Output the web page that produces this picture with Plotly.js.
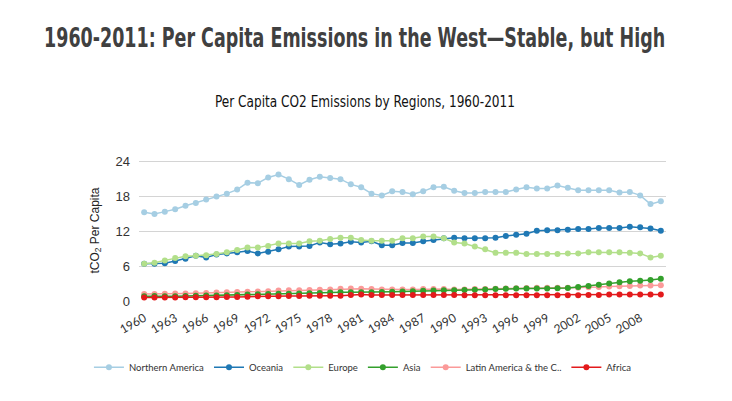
<!DOCTYPE html>
<html><head><meta charset="utf-8">
<script src="https://cdn.plot.ly/plotly-3.0.1.min.js"></script>
<style>html,body{margin:0;padding:0;background:#fff}#chart{width:732px;height:401px}</style>
</head><body><div id="chart"></div>
<script>
const years = [];
for (let y = 1960; y <= 2010; y++) years.push(y);

const northernAmerica = [15.3,15.0,15.4,15.8,16.4,16.9,17.5,18.0,18.5,19.2,20.4,20.3,21.3,21.8,21.0,20.0,20.9,21.4,21.2,21.0,20.1,19.6,18.5,18.2,18.9,18.8,18.4,18.9,19.6,19.7,19.0,18.6,18.6,18.8,18.8,18.8,19.2,19.6,19.4,19.4,19.9,19.5,19.1,19.1,19.1,19.1,18.7,18.8,18.2,16.7,17.2];
const oceania = [6.4,6.4,6.5,6.9,7.3,7.8,7.5,8.0,8.2,8.4,8.6,8.2,8.5,8.9,9.4,9.4,9.5,10.1,9.8,9.9,10.2,10.1,10.3,9.6,9.6,10.0,10.0,10.3,10.5,10.8,10.9,10.8,10.8,10.8,10.9,11.2,11.4,11.6,12.1,12.2,12.2,12.3,12.4,12.4,12.6,12.6,12.6,12.8,12.7,12.5,12.1];
const europe = [6.4,6.6,7.0,7.4,7.7,7.8,7.9,8.1,8.4,8.8,9.2,9.2,9.5,9.9,9.9,9.9,10.3,10.4,10.7,10.9,10.9,10.5,10.4,10.4,10.4,10.8,10.8,11.1,11.1,10.8,10.1,9.9,9.4,8.9,8.3,8.3,8.3,8.1,8.1,8.1,8.1,8.2,8.2,8.4,8.4,8.4,8.4,8.3,8.2,7.5,7.8];
const asia = [0.8,0.85,0.8,0.8,0.85,0.9,0.95,0.95,1.0,1.05,1.1,1.15,1.2,1.25,1.25,1.3,1.35,1.4,1.45,1.5,1.5,1.5,1.5,1.55,1.6,1.65,1.7,1.75,1.8,1.85,1.85,1.9,1.95,2.0,2.05,2.1,2.15,2.15,2.15,2.15,2.2,2.25,2.4,2.6,2.8,3.0,3.25,3.4,3.5,3.6,3.85];
const latinAmerica = [1.2,1.2,1.25,1.3,1.3,1.35,1.4,1.45,1.5,1.55,1.6,1.65,1.7,1.8,1.85,1.85,1.9,1.95,2.0,2.1,2.15,2.1,2.05,2.0,2.0,2.0,2.0,2.05,2.05,2.05,2.0,2.0,2.05,2.05,2.1,2.15,2.2,2.25,2.3,2.3,2.3,2.3,2.3,2.35,2.4,2.5,2.55,2.6,2.65,2.65,2.7];
const africa = [0.6,0.6,0.6,0.6,0.65,0.65,0.65,0.65,0.7,0.7,0.75,0.8,0.8,0.8,0.85,0.85,0.9,0.9,0.9,0.9,1.05,1.1,1.05,1.05,1.05,1.05,1.05,1.05,1.05,1.05,1.05,1.0,1.0,1.0,1.0,1.0,1.0,1.0,1.0,1.0,1.0,1.0,1.0,1.05,1.05,1.1,1.1,1.1,1.1,1.1,1.1];

const seriesNames = ["Northern America","Oceania","Europe","Asia","Latin America & the C..","Africa"];
const seriesColors = ["#a6cee3","#1f78b4","#b2df8a","#33a02c","#fb9a99","#e31a1c"];
const seriesValues = [northernAmerica, oceania, europe, asia, latinAmerica, africa];
const tickYears = [1960,1963,1966,1969,1972,1975,1978,1981,1984,1987,1990,1993,1996,1999,2002,2005,2008];
const yTicks = [0,6,12,18,24];
const mainTitle = '1960-2011: Per Capita Emissions in the West—Stable, but High';
const subTitle = 'Per Capita CO2 Emissions by Regions, 1960-2011';

const order = [0,1,2,4,3,5];
const traces = order.map(i => ({
  x: years, y: seriesValues[i], name: seriesNames[i], type: 'scatter', mode: 'lines+markers',
  line: {color: seriesColors[i], width: 1.5},
  marker: {color: seriesColors[i], size: 6},
  legendrank: i + 1
}));

const condensed = 'DejaVu Sans Condensed, Liberation Sans Narrow, sans-serif';

const layout = {
  width: 732, height: 401,
  margin: {l: 139, r: 66, t: 160, b: 100},
  paper_bgcolor: '#fff', plot_bgcolor: '#fff',
  showlegend: true,
  legend: {orientation: 'h', x: -0.095, xanchor: 'left', y: -0.47, yanchor: 'middle',
           font: {family: 'Lato, sans-serif', size: 9.5, color: '#333'}, itemwidth: 30, traceorder: 'normal'},
  xaxis: {range: [1959.5, 2010.5], tickvals: tickYears, ticktext: tickYears.map(String), tickangle: -30,
          showgrid: false, zeroline: false, showline: false, ticks: '', ticklabelstandoff: 7,
          tickfont: {family: 'Lato, sans-serif', size: 12, color: '#333'}},
  yaxis: {range: [0, 24.3], tickvals: yTicks, showgrid: true, gridcolor: '#d4d4d4', gridwidth: 1,
          zeroline: false, showline: false, ticks: '', ticklabelstandoff: 8,
          tickfont: {family: 'Liberation Sans, Arial, sans-serif', size: 13, color: '#333'}},
  annotations: [
    {text: mainTitle, xref: 'paper', yref: 'paper',
     x: (354.5 - 139) / 527, y: 1, xanchor: 'center', yanchor: 'middle', yshift: 122, showarrow: false,
     font: {family: condensed, size: 21, weight: 'bold', color: '#404040'}},
    {text: subTitle, xref: 'paper', yref: 'paper',
     x: (365 - 139) / 527, y: 1, xanchor: 'center', yanchor: 'middle', yshift: 58, showarrow: false,
     font: {family: condensed, size: 15, color: '#111'}},
    {text: 'tCO<sub>2</sub> Per Capita', xref: 'paper', yref: 'paper', x: 0, y: 0.5,
     xanchor: 'center', yanchor: 'middle', xshift: -44, textangle: -90, showarrow: false,
     font: {family: 'Liberation Sans, Arial, sans-serif', size: 12, color: '#222'}}
  ]
};

Plotly.newPlot('chart', traces, layout, {displayModeBar: false, staticPlot: true}).then(gd => {
  // match the condensed heading typeface: fit widths, and restore the taller title glyphs
  const fit = {};
  fit[mainTitle] = {w: 621, k: 1.3};
  fit[subTitle] = {w: 300, k: 1.0};
  gd.querySelectorAll('.annotation-text').forEach(t => {
    const f = fit[t.textContent];
    if (!f) return;
    t.setAttribute('textLength', f.w);
    t.setAttribute('lengthAdjust', 'spacingAndGlyphs');
    if (f.k !== 1) {
      const b = t.getBBox();
      const cy = b.y + b.height / 2;
      t.setAttribute('transform', `translate(0,${cy}) scale(1,${f.k}) translate(0,${-cy})`);
    }
  });
});
</script>
</body></html>
